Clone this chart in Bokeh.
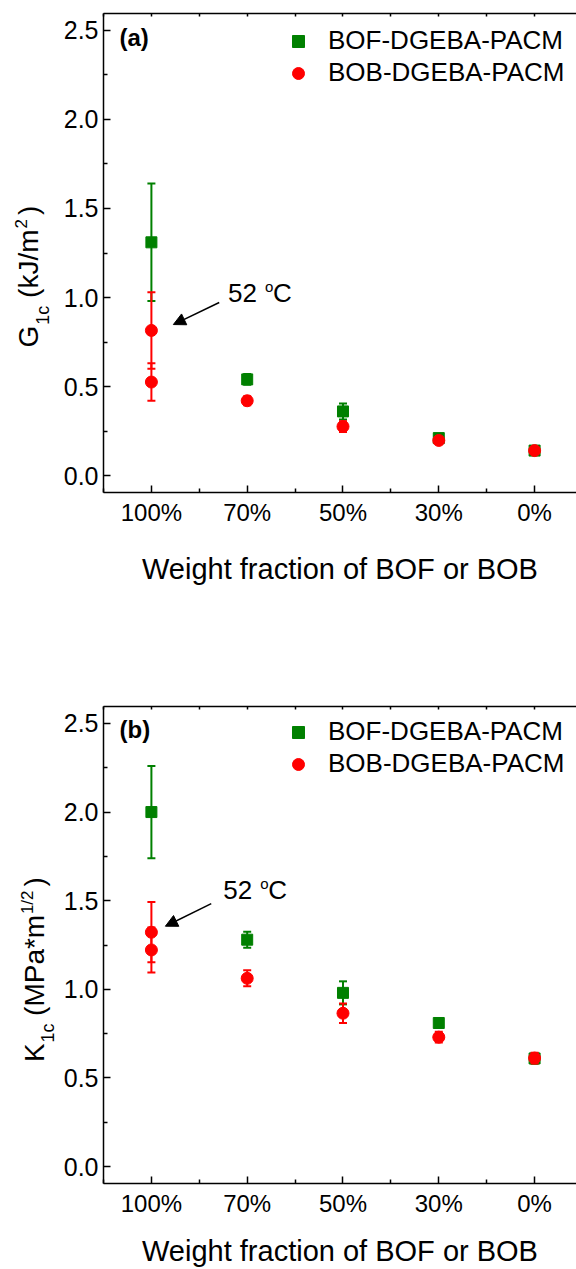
from math import pi
from bokeh.plotting import figure
from bokeh.models import (FixedTicker, LinearAxis, Range1d, Label, Arrow, NormalHead,
                          Legend, LegendItem, PrintfTickFormatter, ColumnDataSource)
from bokeh.layouts import column, row
from bokeh.embed import file_html
from bokeh.resources import INLINE

# ---------------- data ----------------
categories = ["100%", "70%", "50%", "30%", "0%"]
y_ticks = [0.0, 0.5, 1.0, 1.5, 2.0, 2.5]
series_names = ["BOF-DGEBA-PACM", "BOB-DGEBA-PACM"]

# panel (a): G1c (kJ/m^2)
g_bof_cat = ["100%", "70%", "50%", "30%", "0%"]
g_bof_val = [1.31, 0.54, 0.36, 0.21, 0.14]
g_bof_err = [0.33, 0.03, 0.045, 0.012, 0.012]
g_bob_cat = ["100%", "100%", "70%", "50%", "30%", "0%"]
g_bob_val = [0.815, 0.525, 0.42, 0.275, 0.197, 0.14]
g_bob_err = [0.215, 0.105, 0.025, 0.03, 0.012, 0.012]

# panel (b): K1c (MPa*m^1/2)
k_bof_cat = ["100%", "70%", "50%", "30%", "0%"]
k_bof_val = [2.0, 1.28, 0.98, 0.81, 0.61]
k_bof_err = [0.26, 0.045, 0.065, 0.025, 0.03]
k_bob_cat = ["100%", "100%", "70%", "50%", "30%", "0%"]
k_bob_val = [1.322, 1.222, 1.062, 0.865, 0.73, 0.612]
k_bob_err = [0.17, 0.127, 0.045, 0.055, 0.03, 0.03]

# ---------------- style ----------------
FONT = "Liberation Sans"
GREEN = "#008000"
RED = "#ff0000"
LABEL_W = 60          # width of the strip that holds the rotated y-axis title
MAIN_W = 576 - LABEL_W

ADV = {"G": 778, "K": 667, "M": 833, "P": 667, "1": 556, "2": 556, "c": 500, " ": 278,
       "(": 333, ")": 333, "k": 500, "J": 500, "/": 278, "m": 833, "a": 556, "*": 389}


def adv(s, size):
    return sum(ADV.get(ch, 556) for ch in s) * size / 1000.0


def label_strip(height, b_top, b_bottom, start, baseline_x, pieces):
    """Rotated multi-size axis title; the strip's frame matches the panel's frame,
    and its ranges are set so that one unit is one pixel measured from the strip's bottom."""
    lf = figure(width=LABEL_W, height=height, x_range=Range1d(0, LABEL_W),
                y_range=Range1d(b_bottom, height - b_top),
                min_border_left=0, min_border_right=0,
                min_border_top=b_top, min_border_bottom=b_bottom,
                toolbar_location=None, output_backend="svg")
    lf.title.visible = False
    lf.axis.visible = False
    lf.xgrid.visible = False
    lf.ygrid.visible = False
    lf.outline_line_color = None
    off = 0.0
    for text, size, shift, gap in pieces:
        off += gap
        w = adv(text, size)
        cy = start - (off + w / 2.0)          # from the strip's top
        cx = baseline_x + shift - 0.35 * size
        lf.add_layout(Label(x=cx, y=height - cy, text=text, angle=pi / 2,
                            text_font=FONT, text_font_size=f"{size}px",
                            text_baseline="middle", text_align="center", text_color="black"))
        off += w
    return lf


def style_axis(ax, tick_in, minor_in):
    ax.axis_line_width = 1.5
    ax.axis_line_color = "black"
    ax.major_tick_in = tick_in
    ax.major_tick_out = 0
    ax.minor_tick_in = minor_in
    ax.minor_tick_out = 0
    ax.major_tick_line_width = 1.5
    ax.minor_tick_line_width = 1.5
    ax.major_tick_line_color = "black"
    ax.minor_tick_line_color = "black"
    ax.major_label_text_font = FONT
    ax.major_label_text_color = "black"
    ax.axis_label_text_font = FONT
    ax.axis_label_text_color = "black"
    ax.axis_label_text_font_style = "normal"


def panel(height, border_top, border_bottom, title_standoff, bof, bob, tag, ann):
    xpos = {c: i + 1 for i, c in enumerate(categories)}
    p = figure(width=MAIN_W, height=height, x_range=Range1d(0.5, 5.4375),
               y_range=Range1d(-0.0955, 2.5955),
               min_border_left=102 - LABEL_W, min_border_right=0, min_border_top=border_top,
               min_border_bottom=border_bottom, toolbar_location=None, output_backend="svg")
    p.title.visible = False
    p.xgrid.visible = False
    p.ygrid.visible = False
    p.outline_line_color = None
    p.background_fill_color = "white"
    p.border_fill_color = "white"

    xt = FixedTicker(ticks=[1, 2, 3, 4, 5], minor_ticks=[0.5, 1.5, 2.5, 3.5, 4.5, 5.5])
    yt = FixedTicker(ticks=y_ticks, minor_ticks=[0.25, 0.75, 1.25, 1.75, 2.25])

    p.xaxis.ticker = xt
    p.xaxis.major_label_overrides = {i + 1: c for i, c in enumerate(categories)}
    style_axis(p.xaxis[0], 7, 4)
    p.xaxis.major_label_text_font_size = "24px"
    p.xaxis.major_label_standoff = 6
    p.xaxis.axis_label = "Weight fraction of BOF or BOB"
    p.xaxis.axis_label_text_font_size = "29px"
    p.xaxis.axis_label_standoff = title_standoff

    p.yaxis.ticker = yt
    p.yaxis.formatter = PrintfTickFormatter(format="%.1f")
    style_axis(p.yaxis[0], 7, 4)
    p.yaxis.major_label_text_font_size = "25px"
    p.yaxis.major_label_standoff = 5

    # top frame edge with inward ticks only (no labels painted)
    top = LinearAxis(ticker=xt, major_label_text_font_size="1px", major_label_standoff=0)
    style_axis(top, 3, 3)
    top.major_label_text_alpha = 0
    p.add_layout(top, "above")

    rends = []
    for (cats, vals, errs), color, marker, size in zip((bof, bob), (GREEN, RED),
                                                         ("square", "circle"), (11, 12)):
        src = ColumnDataSource(dict(
            x=[xpos[c] for c in cats], y=vals,
            lo=[v - e for v, e in zip(vals, errs)], hi=[v + e for v, e in zip(vals, errs)]))
        p.segment(x0="x", y0="lo", x1="x", y1="hi", source=src, line_color=color, line_width=2)
        p.scatter(x="x", y="lo", source=src, marker="dash", size=8, line_color=color, line_width=2)
        p.scatter(x="x", y="hi", source=src, marker="dash", size=8, line_color=color, line_width=2)
        r = p.scatter(x="x", y="y", source=src, marker=marker, size=size,
                      fill_color=color, line_color=color)
        rends.append(r)

    legend = Legend(items=[LegendItem(label=series_names[0], renderers=[rends[0]]),
                           LegendItem(label=series_names[1], renderers=[rends[1]])],
                    location=(180, 404), orientation="vertical",
                    glyph_width=30, glyph_height=30, label_standoff=15, spacing=1,
                    padding=0, margin=0, border_line_color=None,
                    background_fill_alpha=0, label_text_font=FONT,
                    label_text_color="black", label_text_font_size="26px")
    p.add_layout(legend, "center")

    tx, ty, ttext = tag
    p.add_layout(Label(x=tx, y=ty, text=ttext, text_color="black",
                       text_font=FONT, text_font_style="bold", text_font_size="24px",
                       text_baseline="middle", text_align="left"))

    (ax0, ay0, ax1, ay1), (lx, ly) = ann
    p.add_layout(Arrow(x_start=ax0, y_start=ay0, x_end=ax1, y_end=ay1, line_width=1.5,
                       line_color="black",
                       end=NormalHead(size=12, fill_color="black", line_color="black",
                                      line_width=1)))
    for text, dx, dy, fs in (("52", 0, 0, 26), ("o", 37, 7, 15), ("C", 45, 0, 26)):
        p.add_layout(Label(x=lx, y=ly, x_offset=dx, y_offset=dy, text=text, text_color="black",
                           text_font=FONT, text_font_size=f"{fs}px",
                           text_baseline="middle", text_align="left"))
    return p


H1, H2 = 700, 569
T1, B1 = 13, 208
T2, B2 = 6, 84

p1 = panel(H1, T1, B1, 24,
           (g_bof_cat, g_bof_val, g_bof_err), (g_bob_cat, g_bob_val, g_bob_err),
           (0.667, 2.46, "(a)"),
           ((1.708, 0.972, 1.229, 0.848), (1.80, 1.0225)))
l1 = label_strip(H1, T1, B1, 347, 38,
                 [("G", 28, 0, 0), ("1c", 18, 11, 1), ("(kJ/m", 28, 0, 7.8),
                  ("2", 17, -12, 1), (")", 28, 0, 4)])

p2 = panel(H2, T2, B2, 15,
           (k_bof_cat, k_bof_val, k_bof_err), (k_bob_cat, k_bob_val, k_bob_err),
           (0.667, 2.468, "(b)"),
           ((1.625, 1.483, 1.146, 1.356), (1.75, 1.56)))
l2 = label_strip(H2, T2, B2, 1063 - H1, 44,
                 [("K", 28, 0, 0), ("1c", 18, 10, 1), ("(MPa*m", 28, 0, 7.8),
                  ("1/2", 17, -11, 1), (")", 28, 0, 4)])

layout = column(row(l1, p1, spacing=0), row(l2, p2, spacing=0), spacing=0)
open("out.html", "w").write(file_html(layout, INLINE))
